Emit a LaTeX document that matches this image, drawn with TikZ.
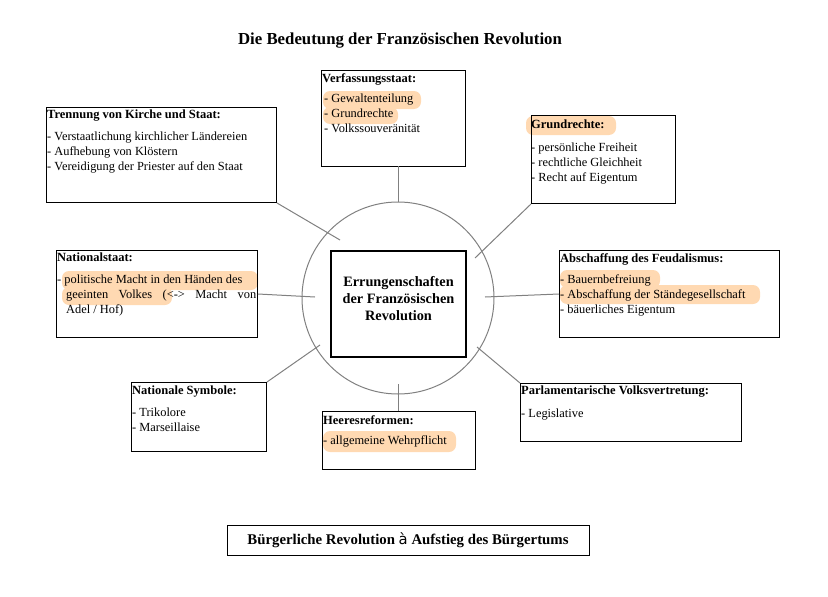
\documentclass[tikz,border=0pt]{standalone}
\usepackage{fontspec}
\setmainfont{Liberation Serif}
\usetikzlibrary{positioning}
\tikzset{
  topic/.style={draw, line width=1pt, anchor=north west, inner sep=0pt},
  head/.style={anchor=north west, font=\bfseries\fontsize{12.5}{14}\selectfont, inner sep=1pt, yshift=-2pt},
  item/.style={anchor=north west, font=\fontsize{12.4}{15}\selectfont, inner sep=1pt, align=left, yshift=-3pt},
  glow/.style={fill=orange!30, rounded corners=7pt},
  link/.style={draw=gray, line width=1pt}
}
\begin{document}
\begin{tikzpicture}[x=1pt,y=-1pt]
\useasboundingbox (0,0) rectangle (828,597);
% highlights
\fill[glow] (323,91) rectangle (421,109);
\fill[glow] (323,107) rectangle (398,124);
\fill[glow] (526,116) rectangle (616,135);
\fill[glow] (62,271) rectangle (258,290);
\fill[glow] (62,287) rectangle (172,305);
\fill[glow] (560,270) rectangle (660,288);
\fill[glow] (560,285) rectangle (760,304);
\fill[glow] (323,431) rectangle (456,452);

\node[font=\bfseries\fontsize{16.8}{18}\selectfont] (title) at (400,41) {Die Bedeutung der Französischen Revolution};

\node[draw=gray, line width=1pt, circle, minimum size=192pt] (ring) at (398,298) {};
\node[draw, line width=1.5pt, minimum width=135pt, minimum height=106pt, align=center,
  font=\bfseries\fontsize{14.3}{17}\selectfont] (core) at (398.5,304) {Errungenschaften\\der Französischen\\Revolution\\[-6pt]};

% boxes
\node[topic, minimum width=144pt, minimum height=96pt] (verf) at (321,70) {};
\node[head] at (321,70) {Verfassungsstaat:};
\node[item] at (323,90) {- Gewaltenteilung\\- Grundrechte\\- Volkssouveränität};

\node[topic, minimum width=230pt, minimum height=95pt] (kirche) at (46,107) {};
\node[head] at (46,107) {Trennung von Kirche und Staat:};
\node[item] at (46,128) {- Verstaatlichung kirchlicher Ländereien\\- Aufhebung von Klöstern\\- Vereidigung der Priester auf den Staat};

\node[topic, minimum width=144pt, minimum height=88pt] (grund) at (531,115) {};
\node[head] at (530,117) {Grundrechte:};
\node[item] at (530,139) {- persönliche Freiheit\\- rechtliche Gleichheit\\- Recht auf Eigentum};

\node[topic, minimum width=201pt, minimum height=87pt] (nation) at (56,250) {};
\node[head] at (56,250) {Nationalstaat:};
\node[item, text width=199pt, align=justify] at (56,271) {- politische Macht in den Händen des\\\hspace*{9pt}geeinten\hfill Volkes\hfill (<->\hfill Macht\hfill von\\\hspace*{9pt}Adel / Hof)};

\node[topic, minimum width=220pt, minimum height=87pt] (feudal) at (559,250) {};
\node[head] at (559,250) {Abschaffung des Feudalismus:};
\node[item] at (559,271) {- Bauernbefreiung\\- Abschaffung der Ständegesellschaft\\- bäuerliches Eigentum};

\node[topic, minimum width=135pt, minimum height=69pt] (symb) at (131,382) {};
\node[head] at (131,383) {Nationale Symbole:};
\node[item] at (131,404) {- Trikolore\\- Marseillaise};

\node[topic, minimum width=153pt, minimum height=58pt] (heer) at (322,411) {};
\node[head] at (322,412) {Heeresreformen:};
\node[item] at (322,432) {- allgemeine Wehrpflicht};

\node[topic, minimum width=221pt, minimum height=58pt] (parl) at (520,383) {};
\node[head] at (520,383) {Parlamentarische Volksvertretung:};
\node[item] at (520,405) {- Legislative};

\node[draw, line width=1pt, minimum width=362pt, minimum height=30pt,
  font=\bfseries\fontsize{14.8}{16}\selectfont] (bottom) at (408,540) {Bürgerliche Revolution {\mdseries\fontspec{DejaVu Sans}à} Aufstieg des Bürgertums};

% connectors
\draw[link] (398,166) -- (ring.north);
\draw[link] (kirche.south east) -- (340,240);
\draw[link] (grund.south west) -- (475,258);
\draw[link] (nation.east) -- (315,297);
\draw[link] (485,297) -- (feudal.west);
\draw[link] (symb.north east) -- (320,345);
\draw[link] (heer.north -| ring.south) -- (398,384);
\draw[link] (parl.north west) -- (477,347);
\end{tikzpicture}
\end{document}
